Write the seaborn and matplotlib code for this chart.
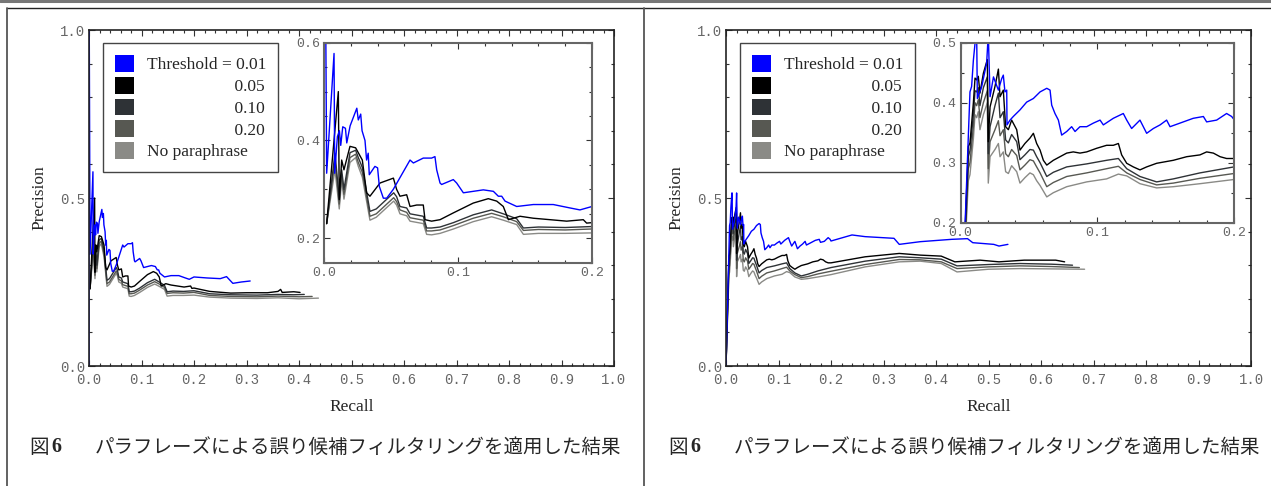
import pandas as pd
import matplotlib.pyplot as plt
import seaborn as sns
from matplotlib.patches import Patch
from matplotlib.lines import Line2D
from matplotlib.ticker import MultipleLocator, FormatStrFormatter

sns.set_style('white')
plt.rcParams['font.family'] = ['Liberation Serif', 'Noto Sans CJK JP']

series = ['Threshold = 0.01', '0.05', '0.10', '0.20', 'No paraphrase']
colors = ['#0000ff', '#000000', '#2e3236', '#575852', '#8a8a86']

# ---- left panel ----
rec_a_001 = [0.0, 0.0, 0.0005, 0.002, 0.0075, 0.008, 0.010, 0.0115, 0.0125, 0.014, 0.016, 0.017, 0.0195, 0.0245,
             0.0256, 0.0274, 0.0284, 0.0306, 0.0318, 0.033, 0.0338, 0.038, 0.040, 0.0413, 0.0443, 0.0468, 0.0517,
             0.0642, 0.0667, 0.0741, 0.0803, 0.0828, 0.0841, 0.0866, 0.0878, 0.0965, 0.099, 0.104, 0.1114, 0.1189,
             0.1264, 0.1301, 0.1326, 0.1351, 0.1438, 0.1562, 0.1711, 0.1836, 0.191, 0.20, 0.225, 0.25, 0.262, 0.274,
             0.29, 0.307]
prec_a_001 = [0.0, 1.0, 1.0, 0.333, 0.578, 0.333, 0.408, 0.42, 0.39, 0.428, 0.425, 0.395, 0.43, 0.466, 0.442, 0.454,
              0.42, 0.40, 0.36, 0.374, 0.33, 0.347, 0.344, 0.306, 0.282, 0.282, 0.30, 0.36, 0.354, 0.364, 0.364, 0.367,
              0.340, 0.313, 0.31, 0.32, 0.313, 0.293, 0.296, 0.299, 0.296, 0.286, 0.286, 0.276, 0.265, 0.269, 0.269,
              0.262, 0.258, 0.265, 0.262, 0.26, 0.266, 0.246, 0.25, 0.253]

rec_a_005 = [0.002, 0.0107, 0.0114, 0.0132, 0.0149, 0.0194, 0.0236, 0.0256, 0.0286, 0.0318, 0.0343, 0.0418, 0.0518,
             0.0542, 0.0567, 0.0617, 0.0642, 0.0692, 0.0741, 0.0754, 0.0803, 0.0866, 0.0966, 0.1114, 0.1226, 0.1289,
             0.1338, 0.1376, 0.1463, 0.1562, 0.1687, 0.1811, 0.1935, 0.196, 0.20, 0.23, 0.27, 0.30, 0.34, 0.36, 0.365,
             0.368, 0.39, 0.402]
prec_a_005 = [0.23, 0.50, 0.279, 0.36, 0.34, 0.388, 0.385, 0.375, 0.36, 0.293, 0.286, 0.313, 0.323, 0.30, 0.286, 0.289,
              0.265, 0.268, 0.268, 0.238, 0.235, 0.238, 0.252, 0.272, 0.281, 0.276, 0.265, 0.238, 0.245, 0.241, 0.238,
              0.235, 0.238, 0.231, 0.232, 0.222, 0.217, 0.218, 0.218, 0.222, 0.228, 0.219, 0.221, 0.219]

rec_a_010 = [0.002, 0.0082, 0.0114, 0.0132, 0.0149, 0.0194, 0.0236, 0.0256, 0.0286, 0.0343, 0.039, 0.052, 0.0542,
             0.0567, 0.0617, 0.0642, 0.0741, 0.0766, 0.0803, 0.0866, 0.0966, 0.1114, 0.1251, 0.1338, 0.1438, 0.1488,
             0.16, 0.18, 0.20, 0.23, 0.27, 0.32, 0.36, 0.39, 0.41]
prec_a_010 = [0.23, 0.374, 0.28, 0.34, 0.30, 0.375, 0.38, 0.365, 0.345, 0.255, 0.26, 0.293, 0.285, 0.265, 0.262, 0.25,
              0.245, 0.221, 0.221, 0.223, 0.232, 0.248, 0.258, 0.25, 0.24, 0.221, 0.223, 0.222, 0.224, 0.215, 0.212,
              0.211, 0.213, 0.212, 0.213]

rec_a_020 = [0.002, 0.0082, 0.0114, 0.0132, 0.0149, 0.0194, 0.0236, 0.0256, 0.0286, 0.0343, 0.039, 0.052, 0.0542,
             0.0567, 0.0617, 0.0642, 0.0741, 0.0766, 0.0803, 0.0866, 0.0966, 0.1114, 0.1251, 0.1338, 0.1438, 0.1488,
             0.16, 0.18, 0.20, 0.23, 0.27, 0.32, 0.36, 0.40, 0.425]
prec_a_020 = [0.23, 0.36, 0.27, 0.33, 0.29, 0.365, 0.372, 0.355, 0.335, 0.245, 0.25, 0.283, 0.275, 0.258, 0.253, 0.242,
              0.237, 0.215, 0.215, 0.217, 0.226, 0.241, 0.251, 0.244, 0.234, 0.216, 0.218, 0.217, 0.219, 0.21, 0.207,
              0.206, 0.208, 0.206, 0.207]

rec_a_nop = [0.002, 0.0082, 0.0114, 0.0132, 0.0149, 0.0194, 0.0236, 0.0256, 0.0286, 0.0343, 0.039, 0.052, 0.0542,
             0.0567, 0.0617, 0.0642, 0.0741, 0.0766, 0.0803, 0.0866, 0.0966, 0.1114, 0.1251, 0.1338, 0.1438, 0.1488,
             0.16, 0.18, 0.20, 0.23, 0.27, 0.32, 0.36, 0.40, 0.437]
prec_a_nop = [0.23, 0.34, 0.26, 0.32, 0.28, 0.355, 0.365, 0.347, 0.325, 0.237, 0.243, 0.276, 0.268, 0.25, 0.246, 0.235,
              0.23, 0.208, 0.207, 0.21, 0.219, 0.234, 0.244, 0.237, 0.228, 0.208, 0.21, 0.21, 0.211, 0.205, 0.202,
              0.201, 0.203, 0.2, 0.202]

# ---- right panel ----
rec_b_001 = [0.0, 0.0068, 0.0080, 0.0093, 0.0112, 0.0117, 0.0122, 0.0154, 0.019, 0.0202, 0.0215, 0.024, 0.0276, 0.03,
             0.0312, 0.0324, 0.0337, 0.0339, 0.0361, 0.0385, 0.0434, 0.0483, 0.0532, 0.0581, 0.063, 0.0654, 0.0666,
             0.069, 0.0715, 0.0739, 0.0776, 0.0812, 0.0837, 0.0873, 0.0922, 0.0971, 0.102, 0.1044, 0.1117, 0.119,
             0.1215, 0.1251, 0.1312, 0.1361, 0.141, 0.1459, 0.1507, 0.1532, 0.1605, 0.1702, 0.1776, 0.18, 0.1873,
             0.1946, 0.1983, 0.20, 0.24, 0.265, 0.32, 0.33, 0.37, 0.43, 0.46, 0.47, 0.51, 0.52, 0.537]
prec_b_001 = [0.0, 0.418, 0.427, 0.471, 0.515, 0.515, 0.407, 0.427, 0.466, 0.515, 0.41, 0.443, 0.421, 0.44, 0.446,
              0.418, 0.421, 0.363, 0.371, 0.377, 0.388, 0.401, 0.407, 0.418, 0.424, 0.421, 0.396, 0.382, 0.371, 0.346,
              0.352, 0.36, 0.352, 0.36, 0.36, 0.366, 0.371, 0.363, 0.374, 0.382, 0.371, 0.357, 0.371, 0.349, 0.357,
              0.363, 0.371, 0.36, 0.366, 0.374, 0.377, 0.368, 0.371, 0.382, 0.377, 0.372, 0.39, 0.385, 0.38, 0.362,
              0.37, 0.377, 0.379, 0.367, 0.362, 0.357, 0.362]

rec_b_005 = [0.0, 0.0056, 0.0068, 0.0093, 0.0105, 0.0117, 0.0129, 0.0141, 0.0166, 0.0195, 0.0202, 0.0215, 0.0251,
             0.0276, 0.0288, 0.0312, 0.0329, 0.0349, 0.0373, 0.041, 0.0434, 0.047, 0.0507, 0.0532, 0.0556, 0.0581,
             0.0605, 0.063, 0.0678, 0.0727, 0.0776, 0.0824, 0.0873, 0.0922, 0.0995, 0.1068, 0.1117, 0.1154, 0.1178,
             0.1215, 0.1263, 0.1312, 0.1361, 0.1434, 0.1507, 0.1556, 0.1654, 0.1751, 0.18, 0.1849, 0.1898, 0.1946,
             0.20, 0.265, 0.33, 0.37, 0.41, 0.436, 0.484, 0.52, 0.568, 0.628, 0.645]
prec_b_005 = [0.0, 0.327, 0.333, 0.40, 0.441, 0.438, 0.444, 0.416, 0.449, 0.472, 0.335, 0.393, 0.427, 0.456, 0.41,
              0.421, 0.36, 0.355, 0.371, 0.355, 0.321, 0.332, 0.341, 0.349, 0.332, 0.321, 0.304, 0.296, 0.304, 0.31,
              0.316, 0.318, 0.316, 0.318, 0.324, 0.329, 0.329, 0.332, 0.313, 0.299, 0.293, 0.288, 0.293, 0.299, 0.302,
              0.304, 0.31, 0.313, 0.318, 0.316, 0.31, 0.307, 0.307, 0.325, 0.335, 0.33, 0.327, 0.31, 0.315, 0.31,
              0.315, 0.315, 0.31]

rec_b_010 = [0.0, 0.0056, 0.0068, 0.0093, 0.0105, 0.0117, 0.0129, 0.0141, 0.0166, 0.0195, 0.0202, 0.0215, 0.0251,
             0.0276, 0.0288, 0.0312, 0.0329, 0.0349, 0.0373, 0.041, 0.0434, 0.047, 0.0507, 0.0532, 0.0556, 0.0581,
             0.063, 0.0678, 0.0776, 0.0922, 0.1068, 0.1154, 0.1215, 0.1312, 0.1434, 0.1556, 0.1751, 0.20, 0.265,
             0.33, 0.37, 0.41, 0.44, 0.50, 0.56, 0.62, 0.66]
prec_b_010 = [0.0, 0.31, 0.32, 0.38, 0.42, 0.418, 0.425, 0.395, 0.425, 0.443, 0.315, 0.36, 0.395, 0.416, 0.375, 0.385,
              0.338, 0.333, 0.347, 0.335, 0.305, 0.313, 0.322, 0.321, 0.31, 0.30, 0.277, 0.284, 0.293, 0.298, 0.304,
              0.307, 0.29, 0.277, 0.268, 0.273, 0.283, 0.293, 0.312, 0.325, 0.322, 0.318, 0.298, 0.302, 0.305, 0.303,
              0.30]

rec_b_020 = [0.0, 0.0056, 0.0068, 0.0093, 0.0105, 0.0117, 0.0129, 0.0141, 0.0166, 0.0195, 0.0202, 0.0215, 0.0251,
             0.0276, 0.0288, 0.0312, 0.0329, 0.0349, 0.0373, 0.041, 0.0434, 0.047, 0.0507, 0.0532, 0.0556, 0.0581,
             0.063, 0.0678, 0.0776, 0.0922, 0.1068, 0.1154, 0.1215, 0.1312, 0.1434, 0.1556, 0.1751, 0.20, 0.265,
             0.33, 0.37, 0.41, 0.44, 0.50, 0.56, 0.62, 0.673]
prec_b_020 = [0.0, 0.29, 0.30, 0.36, 0.40, 0.395, 0.405, 0.375, 0.40, 0.42, 0.29, 0.335, 0.355, 0.37, 0.345, 0.355,
              0.315, 0.31, 0.322, 0.312, 0.288, 0.296, 0.305, 0.303, 0.293, 0.283, 0.26, 0.267, 0.277, 0.283, 0.29,
              0.294, 0.283, 0.272, 0.263, 0.266, 0.274, 0.282, 0.302, 0.317, 0.316, 0.31, 0.29, 0.295, 0.298, 0.296,
              0.293]

rec_b_nop = [0.0, 0.0056, 0.0068, 0.0093, 0.0105, 0.0117, 0.0129, 0.0141, 0.0166, 0.0195, 0.0202, 0.0215, 0.0251,
             0.0276, 0.0288, 0.0312, 0.0329, 0.0349, 0.0373, 0.041, 0.0434, 0.047, 0.0507, 0.0532, 0.0556, 0.0581,
             0.063, 0.0678, 0.0776, 0.0922, 0.1068, 0.1154, 0.1215, 0.1312, 0.1434, 0.1556, 0.1751, 0.20, 0.265,
             0.33, 0.37, 0.41, 0.44, 0.50, 0.56, 0.62, 0.683]
prec_b_nop = [0.0, 0.27, 0.28, 0.34, 0.38, 0.375, 0.385, 0.355, 0.38, 0.40, 0.266, 0.31, 0.322, 0.332, 0.31, 0.318,
              0.285, 0.282, 0.295, 0.285, 0.266, 0.275, 0.283, 0.28, 0.27, 0.262, 0.243, 0.25, 0.26, 0.268, 0.273,
              0.281, 0.278, 0.265, 0.258, 0.26, 0.265, 0.272, 0.295, 0.31, 0.312, 0.305, 0.28, 0.288, 0.29, 0.289,
              0.288]

caption_fig = '図'
caption_num = '6'
caption_text = 'パラフレーズによる誤り候補フィルタリングを適用した結果'

pal = dict(zip(series, colors))
draw_order = series[::-1]  # blue ends up on top


def make_frame(recs, precs):
    parts = [pd.DataFrame({'recall': r, 'precision': p, 'series': s}) for s, r, p in zip(series, recs, precs)]
    return pd.concat(parts, ignore_index=True)


df_a = make_frame([rec_a_001, rec_a_005, rec_a_010, rec_a_020, rec_a_nop],
                  [prec_a_001, prec_a_005, prec_a_010, prec_a_020, prec_a_nop])
df_b = make_frame([rec_b_001, rec_b_005, rec_b_010, rec_b_020, rec_b_nop],
                  [prec_b_001, prec_b_005, prec_b_010, prec_b_020, prec_b_nop])


def style_ticks(ax, size, spine_col, spine_w):
    ax.tick_params(which='both', direction='in', top=True, right=True, bottom=True, left=True,
                   labelsize=size, labelcolor='#666666', labelfontfamily='Liberation Mono',
                   color='#333333', width=0.8)
    ax.tick_params(axis='x', pad=5)
    ax.tick_params(axis='y', pad=3)
    ax.tick_params(which='major', length=4)
    ax.tick_params(which='minor', length=2.5)
    ax.xaxis.set_major_formatter(FormatStrFormatter('%.1f'))
    ax.yaxis.set_major_formatter(FormatStrFormatter('%.1f'))
    for sp in ax.spines.values():
        sp.set_visible(True)
        sp.set_color(spine_col)
        sp.set_linewidth(spine_w)


def draw_panel(ax, df, inset_rect, inset_ylim, inset_ymajor):
    sns.lineplot(data=df, x='recall', y='precision', hue='series', hue_order=draw_order, palette=pal,
                 estimator=None, sort=False, lw=1.0, legend=False, ax=ax)
    ax.set_xlim(0, 1)
    ax.set_ylim(0, 1)
    ax.xaxis.set_major_locator(MultipleLocator(0.1))
    ax.xaxis.set_minor_locator(MultipleLocator(0.02))
    ax.yaxis.set_major_locator(MultipleLocator(0.5))
    ax.yaxis.set_minor_locator(MultipleLocator(0.1))
    style_ticks(ax, 10, '#222222', 1.2)
    ax.set_xlabel('Recall', fontsize=12.5, labelpad=9)
    ax.set_ylabel('Precision', fontsize=12.5, labelpad=9)

    pad = ' ' * 20
    handles = [Patch(facecolor=c, edgecolor='none') for c in colors]
    labels = ['Threshold = 0.01', pad + '0.05', pad + '0.10', pad + '0.20', 'No paraphrase']
    leg = ax.legend(handles, labels, loc='upper left', bbox_to_anchor=(0.027, 0.961), borderaxespad=0,
                    prop={'family': 'Liberation Serif', 'size': 12.5}, frameon=True, fancybox=False,
                    framealpha=1, edgecolor='#444444', handlelength=1.1, handleheight=1.1,
                    handletextpad=0.7, labelspacing=0.2, borderpad=0.7)
    leg.get_frame().set_linewidth(1.0)

    ins = ax.inset_axes(inset_rect)
    sns.lineplot(data=df, x='recall', y='precision', hue='series', hue_order=draw_order, palette=pal,
                 estimator=None, sort=False, lw=1.0, legend=False, ax=ins)
    ins.set_facecolor('white')
    ins.set_xlim(0, 0.2)
    ins.set_ylim(*inset_ylim)
    ins.xaxis.set_major_locator(MultipleLocator(0.1))
    ins.xaxis.set_minor_locator(MultipleLocator(0.02))
    ins.yaxis.set_major_locator(MultipleLocator(inset_ymajor))
    ins.yaxis.set_minor_locator(MultipleLocator(0.05))
    style_ticks(ins, 9.5, '#666666', 1.5)
    ins.tick_params(axis='x', pad=3)
    ins.set_xlabel('')
    ins.set_ylabel('')


fig = plt.figure(figsize=(12.71, 4.86), dpi=100)
W, H = 1271, 486

ax_a = fig.add_axes([89 / W, (H - 366) / H, 525 / W, 336 / H])
ax_b = fig.add_axes([726 / W, (H - 366) / H, 525 / W, 336 / H])

draw_panel(ax_a, df_a, [0.4476, 0.3074, 0.5105, 0.6548], (0.15, 0.6), 0.2)
draw_panel(ax_b, df_b, [0.447, 0.4265, 0.5206, 0.5357], (0.2, 0.5), 0.1)

# captions
for off in (0, 639):
    yc = (H - 447) / H
    fig.text((29 + off) / W, yc, caption_fig, fontsize=14, family='Noto Sans CJK JP', va='center')
    fig.text((51 + off) / W, yc, caption_num, fontsize=14.5, family='Liberation Serif', weight='bold',
             va='center')
    fig.text((95 + off) / W, yc, caption_text, fontsize=14, family='Noto Sans CJK JP', va='center')

# page frame
fig.add_artist(Line2D([0, 1], [1 - 1.5 / H, 1 - 1.5 / H], transform=fig.transFigure, color='#777777', lw=2.2))
fig.add_artist(Line2D([7 / W, 1], [1 - 8 / H, 1 - 8 / H], transform=fig.transFigure, color='#222222', lw=1.0))
fig.add_artist(Line2D([7 / W, 7 / W], [0, 1 - 8 / H], transform=fig.transFigure, color='#555555', lw=1.3))
fig.add_artist(Line2D([644 / W, 644 / W], [0, 1 - 8 / H], transform=fig.transFigure, color='#555555', lw=1.3))

fig.savefig('out.png', dpi=100)
